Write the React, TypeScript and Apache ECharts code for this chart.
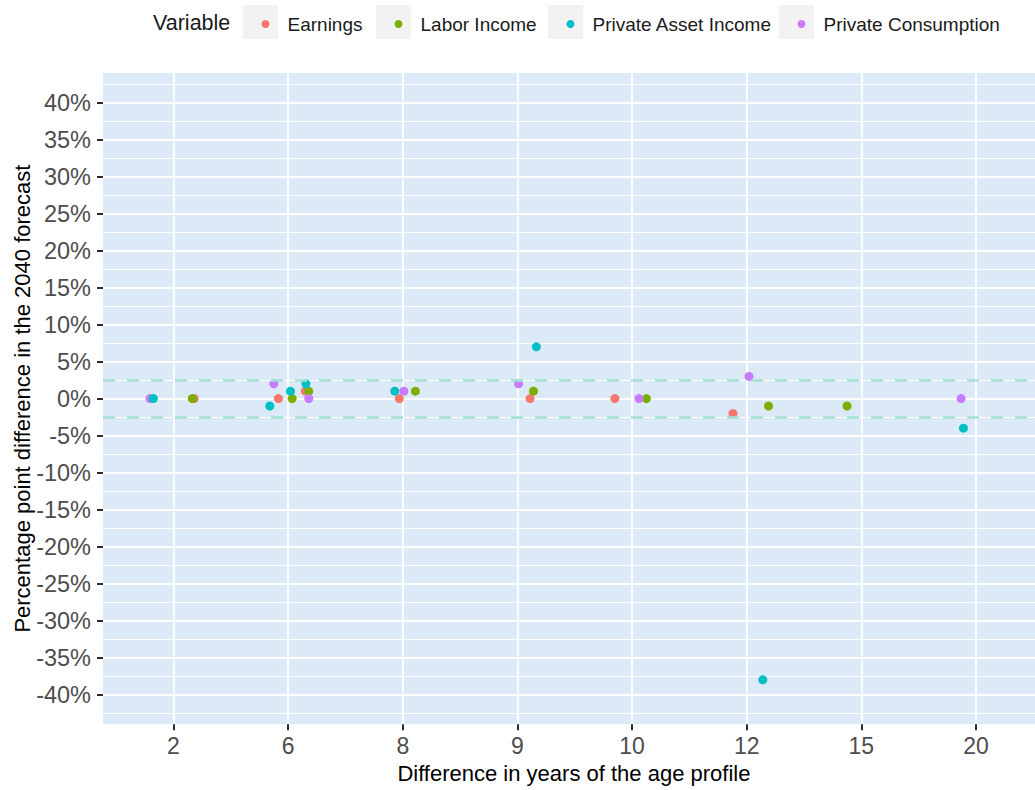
import React, { useEffect, useRef } from "react";
import * as echarts from "echarts";

// ---- data ----
const xLabels = ["2", "6", "8", "9", "10", "12", "15", "20"];
const yTickValues = [-40, -35, -30, -25, -20, -15, -10, -5, 0, 5, 10, 15, 20, 25, 30, 35, 40];
const bandLimits = [2.5, -2.5];

const earningsCat = ["2", "6", "6", "8", "9", "10", "12"];
const earningsJitter = [0.18, -0.085, 0.15, -0.03, 0.11, -0.15, -0.12];
const earningsValue = [0, 0, 1, 0, 0, 0, -2];

const laborCat = ["2", "6", "6", "8", "9", "10", "12", "15"];
const laborJitter = [0.164, 0.035, 0.18, 0.11, 0.14, 0.125, 0.19, -0.125];
const laborValue = [0, 0, 1, 1, 1, 0, -1, -1];

const assetCat = ["2", "6", "6", "6", "8", "9", "12", "20"];
const assetJitter = [-0.176, -0.16, 0.02, 0.155, -0.07, 0.165, 0.14, -0.11];
const assetValue = [0, -1, 1, 2, 1, 7, -38, -4];

const consCat = ["2", "6", "6", "8", "9", "10", "12", "20"];
const consJitter = [-0.205, -0.125, 0.18, 0.01, 0.01, 0.06, 0.02, -0.13];
const consValue = [0, 2, 0, 1, 2, 0, 3, 0];

const seriesNames = ["Earnings", "Labor Income", "Private Asset Income", "Private Consumption"];
const seriesColors = ["#F8766D", "#7CAE00", "#00BFC4", "#C77CFF"];

// ---- layout ----
const FONT = "Arial, 'Liberation Sans', sans-serif";
const GRID_LEFT = 103;
const GRID_TOP = 65.6;
const GRID_WIDTH = 941.8;
const GRID_HEIGHT = 666;
const Y_MIN = -45;
const Y_MAX = 45;
const PANEL_LIMIT = 44;
const X_MIN = 0.385;
const X_MAX = 8.6;
const keyBoxLeft = [243, 376, 548, 779];

function toPoints(cats: string[], jit: number[], vals: number[]) {
  return cats.map((c, i) => [xLabels.indexOf(c) + 1 + jit[i], vals[i]]);
}

export default function App() {
  const ref = useRef<HTMLDivElement>(null);
  useEffect(() => {
    if (!ref.current) return;
    const chart = echarts.init(ref.current, null, { renderer: "svg" });
    const pxPerUnit = GRID_HEIGHT / (Y_MAX - Y_MIN);
    const panelTop = GRID_TOP + (Y_MAX - PANEL_LIMIT) * pxPerUnit;
    const panelH = 2 * PANEL_LIMIT * pxPerUnit;
    const xOffset = -(Y_MAX - PANEL_LIMIT) * pxPerUnit;

    const pointSets = [
      toPoints(earningsCat, earningsJitter, earningsValue),
      toPoints(laborCat, laborJitter, laborValue),
      toPoints(assetCat, assetJitter, assetValue),
      toPoints(consCat, consJitter, consValue),
    ];
    const drawOrder = [0, 1, 3, 2];

    const legends = seriesNames.map((name, i) => ({
      data: [name],
      left: keyBoxLeft[i] + 17.5 - 4,
      top: 8,
      orient: "horizontal",
      icon: "circle",
      itemWidth: 8,
      itemHeight: 8,
      selectedMode: false,
      textStyle: {
        fontFamily: FONT,
        fontSize: 19,
        color: "#1a1a1a",
        lineHeight: 22,
        padding: [0, 0, 0, 13],
      },
    }));

    const graphics: any[] = [
      {
        type: "rect",
        z: -10,
        silent: true,
        shape: { x: GRID_LEFT, y: panelTop, width: GRID_WIDTH, height: panelH },
        style: { fill: "#DCEAF8" },
      },
      {
        type: "text",
        z: 10,
        style: {
          text: "Variable",
          x: 153,
          y: 23,
          fontFamily: FONT,
          fontSize: 21.5,
          fill: "#1a1a1a",
          verticalAlign: "middle",
        },
      },
      ...keyBoxLeft.map((x) => ({
        type: "rect",
        z: -10,
        silent: true,
        shape: { x, y: 5, width: 35, height: 34 },
        style: { fill: "#F2F2F2" },
      })),
    ];

    chart.setOption({
      animation: false,
      backgroundColor: "#ffffff",
      legend: legends,
      graphic: graphics,
      grid: {
        left: GRID_LEFT,
        top: GRID_TOP,
        width: GRID_WIDTH,
        height: GRID_HEIGHT,
        containLabel: false,
        outerBoundsMode: "none",
      },
      xAxis: {
        type: "value",
        min: X_MIN,
        max: X_MAX,
        offset: xOffset,
        name: "Difference in years of the age profile",
        nameLocation: "middle",
        nameGap: 38,
        nameMoveOverlap: false,
        nameTextStyle: { fontFamily: FONT, fontSize: 22, color: "#000" },
        axisLine: { show: false, onZero: false },
        axisTick: {
          show: true,
          length: 6,
          lineStyle: { color: "#2b2b2b", width: 2 },
          customValues: xLabels.map((_, i) => i + 1),
        },
        axisLabel: {
          show: true,
          margin: 10,
          fontFamily: FONT,
          fontSize: 23,
          color: "#4D4D4D",
          customValues: xLabels.map((_, i) => i + 1),
          formatter: (v: number) => xLabels[Math.round(v) - 1] ?? "",
        },
        splitLine: { show: true, lineStyle: { color: "#ffffff", width: 1.8 } },
        minorTick: { show: false },
        minorSplitLine: { show: false },
      },
      yAxis: {
        type: "value",
        min: Y_MIN,
        max: Y_MAX,
        interval: 5,
        name: "Percentage point difference in the 2040 forecast",
        nameLocation: "middle",
        nameGap: 70,
        nameMoveOverlap: false,
        nameTextStyle: { fontFamily: FONT, fontSize: 22, color: "#000" },
        axisLine: { show: false, onZero: false },
        axisTick: {
          show: true,
          length: 6,
          lineStyle: { color: "#2b2b2b", width: 2 },
          customValues: yTickValues,
        },
        axisLabel: {
          margin: 12,
          fontFamily: FONT,
          fontSize: 23.5,
          color: "#4D4D4D",
          customValues: yTickValues,
          formatter: (v: number) => (Math.abs(v) > 40 ? "" : v + "%"),
        },
        splitLine: { show: true, lineStyle: { color: "#ffffff", width: 1.8 } },
        minorTick: { show: false, splitNumber: 2 },
        minorSplitLine: { show: true, lineStyle: { color: "#ffffff", width: 1 } },
      },
      series: [
        {
          type: "scatter",
          name: "__bands",
          data: [],
          silent: true,
          z: 3,
          markLine: {
            silent: true,
            symbol: ["none", "none"],
            label: { show: false },
            lineStyle: { color: "#A3E1D2", type: [12, 12], width: 2.5 },
            data: bandLimits.map((v) => ({ yAxis: v })),
          },
        },
        ...drawOrder.map((i) => ({
          type: "scatter",
          name: seriesNames[i],
          data: pointSets[i],
          symbol: "circle",
          symbolSize: 9,
          z: 4,
          itemStyle: { color: seriesColors[i], opacity: 1 },
        })),
      ],
    });
    return () => chart.dispose();
  }, []);

  return (
    <div
      ref={ref}
      style={{ position: "fixed", left: 0, top: 0, width: 1035, height: 790 }}
    />
  );
}
